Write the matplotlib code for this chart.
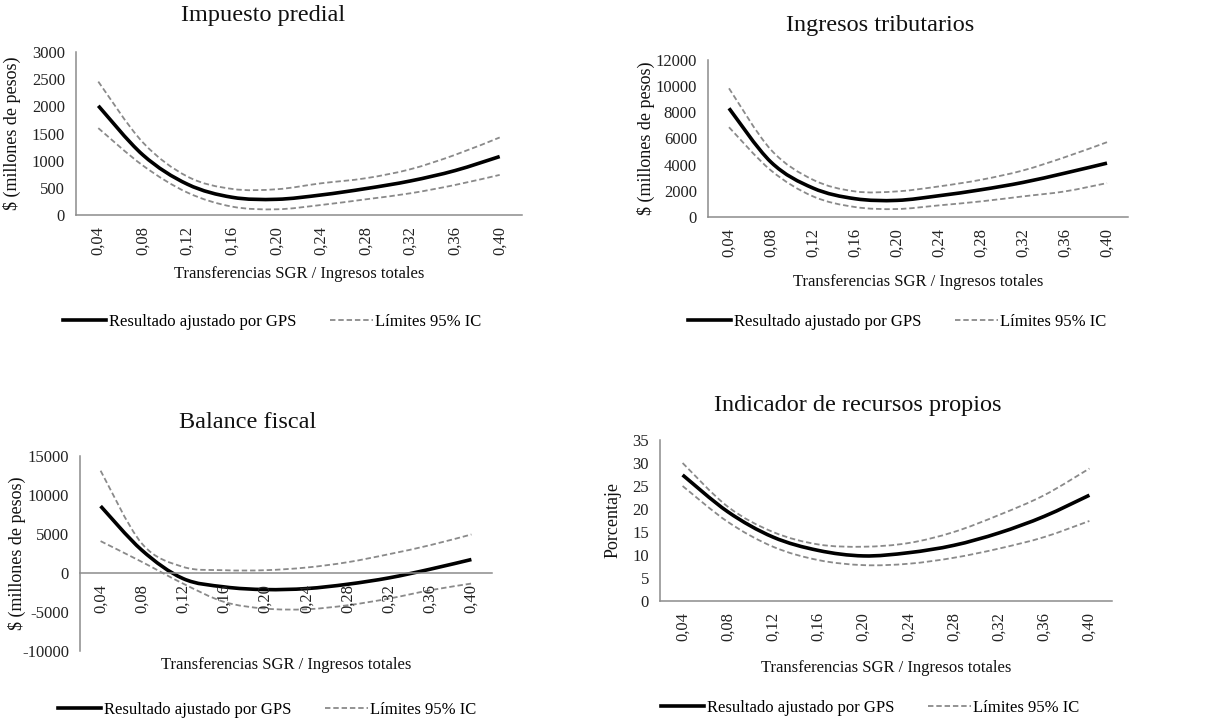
import matplotlib
matplotlib.use("Agg")
import matplotlib.pyplot as plt
from matplotlib.path import Path
from matplotlib.patches import PathPatch
from matplotlib.lines import Line2D
import numpy as np

plt.rcParams['font.family'] = ['Liberation Serif', 'DejaVu Serif']
plt.rcParams['axes.unicode_minus'] = False

# ─── datos ───
x_labels = ["0,04", "0,08", "0,12", "0,16", "0,20", "0,24", "0,28", "0,32", "0,36", "0,40"]

predial_fit = [2010, 1105, 566, 326, 289, 369, 486, 627, 818, 1076]
predial_hi = [2455, 1335, 707, 480, 474, 584, 677, 843, 1107, 1427]
predial_lo = [1599, 910, 412, 154, 105, 185, 289, 400, 553, 738]

tribut_fit = [8310, 4193, 2211, 1398, 1271, 1626, 2084, 2643, 3355, 4117]
tribut_hi = [9835, 5133, 2846, 1957, 1957, 2338, 2846, 3558, 4574, 5718]
tribut_lo = [6861, 3558, 1576, 762, 610, 889, 1194, 1576, 1957, 2592]

balance_fit = [8579, 2928, -711, -1781, -2123, -1995, -1438, -625, 488, 1729]
balance_hi = [13116, 3784, 788, 360, 360, 702, 1387, 2414, 3570, 4940]
balance_lo = [4084, 1430, -1353, -3707, -4563, -4649, -4135, -3279, -2209, -1353]

propios_fit = [27.4, 19.4, 13.9, 11.0, 9.8, 10.5, 12.1, 14.8, 18.4, 23.0]
propios_hi = [30.0, 20.5, 15.0, 12.3, 11.8, 12.6, 15.0, 18.7, 23.0, 28.8]
propios_lo = [25.0, 17.2, 11.8, 8.9, 7.8, 8.1, 9.4, 11.4, 13.9, 17.4]

W, H = 1207, 723
GREY = '#8a8a8a'
AXIS = '#8c8c8c'
DASH = (0, (3, 1.6))


def smooth_path(ys):
    # curva suavizada tipo Excel (Catmull-Rom -> Bezier)
    pts = np.column_stack([np.arange(len(ys)), np.asarray(ys, float)])
    verts = [pts[0]]
    codes = [Path.MOVETO]
    n = len(pts)
    for i in range(n - 1):
        p0 = pts[i - 1] if i > 0 else pts[i]
        p1, p2 = pts[i], pts[i + 1]
        p3 = pts[i + 2] if i + 2 < n else pts[i + 1]
        verts += [p1 + (p2 - p0) / 6, p2 - (p3 - p1) / 6, p2]
        codes += [Path.CURVE4] * 3
    return Path(verts, codes)


def panel(rect, title, title_xy, fit, hi, lo, ylim, yticks, ylabel, ylab_x,
          xlab_y, leg_xy, zero_axis=False):
    l, t, r, b = rect
    ax = fig.add_axes([l / W, 1 - b / H, (r - l) / W, (b - t) / H])
    if zero_axis:
        ax.spines['bottom'].set_position(('data', 0))
    for ys, col, lw, ls in [(hi, GREY, 1.3, DASH), (lo, GREY, 1.3, DASH),
                            (fit, 'black', 2.6, '-')]:
        ax.add_patch(PathPatch(smooth_path(ys), fill=False, edgecolor=col,
                               lw=lw, linestyle=ls, capstyle='butt'))
    ax.set_xlim(-0.5, len(x_labels) - 0.5)
    ax.set_ylim(*ylim)
    ax.set_yticks(yticks)
    ax.set_xticks(range(len(x_labels)))
    ax.set_xticklabels(x_labels, rotation=90)
    ax.tick_params(axis='both', length=0, labelsize=12, colors='#222222')
    ax.tick_params(axis='y', pad=8)
    ax.tick_params(axis='x', pad=8)
    for s in ['top', 'right']:
        ax.spines[s].set_visible(False)
    for s in ['left', 'bottom']:
        ax.spines[s].set_color(AXIS)
        ax.spines[s].set_linewidth(1.1)
    ax.patch.set_alpha(0)
    fig.text(title_xy[0] / W, 1 - title_xy[1] / H, title, ha='center', va='center',
             fontsize=17.5, color='#111111')
    fig.text(ylab_x / W, 1 - (t + b) / 2 / H, ylabel, rotation=90, ha='center',
             va='center', fontsize=13, color='#111111')
    fig.text((l + r) / 2 / W, 1 - xlab_y / H, "Transferencias SGR / Ingresos totales",
             ha='center', va='center', fontsize=12, color='#111111')
    handles = [Line2D([], [], color='black', lw=2.6),
               Line2D([], [], color=GREY, lw=1.3, linestyle=DASH)]
    fig.legend(handles, ["Resultado ajustado por GPS", "Límites 95% IC"],
               loc='center left', bbox_to_anchor=(leg_xy[0] / W, 1 - leg_xy[1] / H),
               ncol=2, frameon=False, fontsize=12, handlelength=2.6,
               handletextpad=0.15, columnspacing=2.0, borderpad=0, borderaxespad=0)
    return ax


fig = plt.figure(figsize=(W / 100, H / 100), dpi=100)

panel((76, 52, 522, 215), "Impuesto predial", (263, 16), predial_fit, predial_hi, predial_lo,
      (0, 3000), range(0, 3001, 500), "$ (millones de pesos)", 12, 274, (63, 322))
panel((708, 60, 1128, 217), "Ingresos tributarios", (880, 25), tribut_fit, tribut_hi, tribut_lo,
      (0, 12000), range(0, 12001, 2000), "$ (millones de pesos)", 646, 282, (688, 322))
panel((80, 456, 492, 651), "Balance fiscal", (248, 422), balance_fit, balance_hi, balance_lo,
      (-10000, 15000), range(-10000, 15001, 5000), "$ (millones de pesos)", 17, 665, (58, 710),
      zero_axis=True)
panel((660, 440, 1112, 601), "Indicador de recursos propios", (858, 405), propios_fit,
      propios_hi, propios_lo, (0, 35), range(0, 36, 5), "Porcentaje", 613, 668, (661, 708))

fig.savefig("out.png", dpi=100, facecolor='white')
